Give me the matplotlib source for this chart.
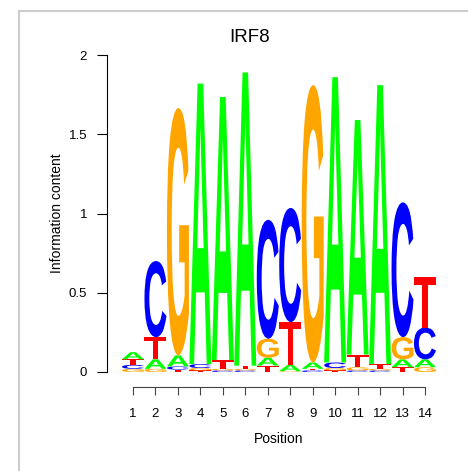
import numpy as np
import matplotlib
matplotlib.use("Agg")
from matplotlib import pyplot as plt
from matplotlib.textpath import TextPath
from matplotlib.patches import PathPatch
from matplotlib.font_manager import FontProperties
from matplotlib.transforms import Affine2D
from matplotlib.lines import Line2D

plt.rcParams['font.family'] = ['Liberation Sans', 'DejaVu Sans']

title = "IRF8"
positions = list(range(1, 15))
# information content per base
A = [0.045, 0.06, 0.07, 1.77, 1.66, 1.85, 0.05, 0.04, 0.04, 1.80, 1.48, 1.76, 0.05, 0.05]
C = [0.025, 0.48, 0.02, 0.025, 0.01, 0.01, 0.75, 0.72, 0.01, 0.035, 0.01, 0.01, 0.85, 0.20]
G = [0.02, 0.02, 1.56, 0.015, 0.01, 0.01, 0.12, 0.005, 1.75, 0.015, 0.02, 0.01, 0.14, 0.03]
T = [0.035, 0.14, 0.015, 0.01, 0.055, 0.02, 0.04, 0.27, 0.01, 0.01, 0.08, 0.03, 0.03, 0.32]
cols = {"A": "#00FF00", "C": "#0000FF", "G": "#FFA500", "T": "#FF0000"}

W, H = 468, 471
fig = plt.figure(figsize=(W / 100, H / 100), dpi=100)

# axes placed in pixel terms: y axis at x=106.7, 0 at y=372, 2 at y=55
px0, pos1, step = 106.7, 133.0, 22.46
pxr = 440.0
x0 = 1 - (pos1 - px0) / step
x1 = 1 + (pxr - pos1) / step
ax = fig.add_axes([px0 / W, (H - 372) / H, (pxr - px0) / W, (372 - 55) / H])
ax.set_xlim(x0, x1)
ax.set_ylim(0, 2)

fp = FontProperties(family="Liberation Sans", weight="bold")

def letter(ch, x, y0, h, w=0.98):
    if h <= 0:
        return
    tp = TextPath((0, 0), ch, size=1, prop=fp)
    bb = tp.get_extents()
    tr = Affine2D().translate(-bb.x0, -bb.y0).scale(w / bb.width, h / bb.height).translate(x - w / 2, y0)
    ax.add_patch(PathPatch(tr.transform_path(tp), fc=cols[ch], ec="none", lw=0))

for i, p in enumerate(positions):
    stack = sorted([("A", A[i]), ("C", C[i]), ("G", G[i]), ("T", T[i])], key=lambda t: t[1])
    y = 0
    for ch, h in stack:
        letter(ch, p, y, h)
        y += h

for s in ["top", "right"]:
    ax.spines[s].set_visible(False)
ax.spines["left"].set_bounds(0, 2)
ax.spines["bottom"].set_position(("outward", 10.6))
ax.spines["bottom"].set_bounds(1, 14)
ax.set_xticks(positions)
ax.set_yticks([0, 0.5, 1, 1.5, 2])
ax.set_yticklabels(["0", "0.5", "1", "1.5", "2"])
ax.tick_params(axis="y", length=7.2, width=0.8, pad=7, labelsize=9.5)
ax.tick_params(axis="x", length=6, width=0.8, pad=9, labelsize=9.5, colors="#444444", labelcolor="black")
ax.spines["bottom"].set_color("#444444")
ax.spines["left"].set_linewidth(0.8)
ax.spines["bottom"].set_linewidth(0.8)

fig.text(279 / W, 1 - 439 / H, "Position", ha="center", va="center", fontsize=10)
fig.text(57 / W, 1 - 213 / H, "Information content", ha="center", va="center", rotation=90, fontsize=10)
fig.text(250 / W, 1 - 37 / H, title, ha="center", va="center", fontsize=13.5)

# light grey frame at top and left
fig.add_artist(Line2D([18.5 / W, 1], [1 - 10.5 / H, 1 - 10.5 / H], color="#cccccc", lw=1.5))
fig.add_artist(Line2D([18.5 / W, 18.5 / W], [0, 1 - 10.5 / H], color="#cccccc", lw=1.5))

fig.savefig("out.png", dpi=100)
